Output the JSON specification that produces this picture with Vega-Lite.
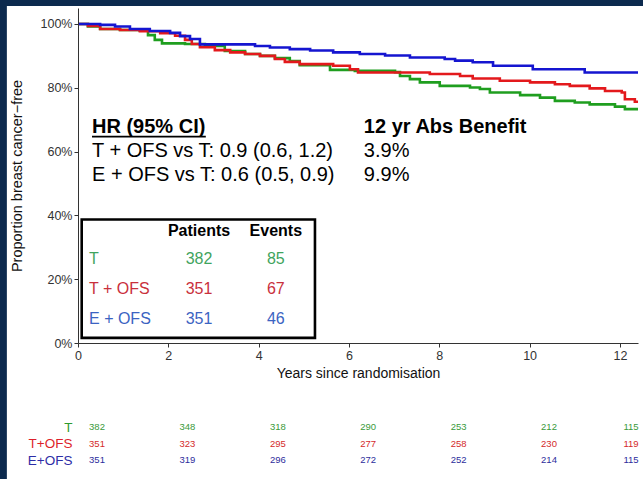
{
  "$schema": "https://vega.github.io/schema/vega-lite/v6.json",
  "width": 560,
  "height": 335,
  "autosize": "none",
  "padding": {"left": 78, "top": 8, "right": 5, "bottom": 136},
  "background": "#0c2a4e",
  "config": {"font": "Liberation Sans", "view": {"stroke": null}},
  "datasets": {
    "km": [
      {"arm": "T", "t": 0, "s": 1.0}, {"arm": "T", "t": 0.22, "s": 0.992}, {"arm": "T", "t": 0.49, "s": 0.984},
      {"arm": "T", "t": 0.93, "s": 0.981}, {"arm": "T", "t": 1.37, "s": 0.979}, {"arm": "T", "t": 1.55, "s": 0.965},
      {"arm": "T", "t": 1.70, "s": 0.950}, {"arm": "T", "t": 1.86, "s": 0.939}, {"arm": "T", "t": 2.37, "s": 0.937},
      {"arm": "T", "t": 2.81, "s": 0.931}, {"arm": "T", "t": 3.25, "s": 0.915}, {"arm": "T", "t": 3.70, "s": 0.906},
      {"arm": "T", "t": 4.03, "s": 0.900}, {"arm": "T", "t": 4.36, "s": 0.893}, {"arm": "T", "t": 4.69, "s": 0.884},
      {"arm": "T", "t": 4.91, "s": 0.871}, {"arm": "T", "t": 5.58, "s": 0.856}, {"arm": "T", "t": 6.13, "s": 0.853},
      {"arm": "T", "t": 7.02, "s": 0.849}, {"arm": "T", "t": 7.13, "s": 0.837}, {"arm": "T", "t": 7.35, "s": 0.827},
      {"arm": "T", "t": 7.57, "s": 0.817}, {"arm": "T", "t": 8.01, "s": 0.806}, {"arm": "T", "t": 8.68, "s": 0.801},
      {"arm": "T", "t": 8.90, "s": 0.796}, {"arm": "T", "t": 9.12, "s": 0.785}, {"arm": "T", "t": 9.79, "s": 0.777},
      {"arm": "T", "t": 10.23, "s": 0.769}, {"arm": "T", "t": 10.56, "s": 0.759}, {"arm": "T", "t": 11.00, "s": 0.754},
      {"arm": "T", "t": 11.33, "s": 0.748}, {"arm": "T", "t": 11.89, "s": 0.741}, {"arm": "T", "t": 12.11, "s": 0.733},
      {"arm": "T", "t": 12.4, "s": 0.733},

      {"arm": "T + OFS", "t": 0, "s": 1.0}, {"arm": "T + OFS", "t": 0.22, "s": 0.994}, {"arm": "T + OFS", "t": 0.49, "s": 0.984},
      {"arm": "T + OFS", "t": 0.93, "s": 0.981}, {"arm": "T + OFS", "t": 1.37, "s": 0.977}, {"arm": "T + OFS", "t": 1.82, "s": 0.971},
      {"arm": "T + OFS", "t": 2.15, "s": 0.963}, {"arm": "T + OFS", "t": 2.37, "s": 0.950}, {"arm": "T + OFS", "t": 2.52, "s": 0.937},
      {"arm": "T + OFS", "t": 2.70, "s": 0.927}, {"arm": "T + OFS", "t": 3.03, "s": 0.918}, {"arm": "T + OFS", "t": 3.37, "s": 0.911},
      {"arm": "T + OFS", "t": 3.70, "s": 0.906}, {"arm": "T + OFS", "t": 4.03, "s": 0.900}, {"arm": "T + OFS", "t": 4.36, "s": 0.890},
      {"arm": "T + OFS", "t": 4.58, "s": 0.881}, {"arm": "T + OFS", "t": 4.91, "s": 0.874}, {"arm": "T + OFS", "t": 5.65, "s": 0.869},
      {"arm": "T + OFS", "t": 6.02, "s": 0.858}, {"arm": "T + OFS", "t": 6.20, "s": 0.848}, {"arm": "T + OFS", "t": 7.79, "s": 0.843},
      {"arm": "T + OFS", "t": 8.46, "s": 0.837}, {"arm": "T + OFS", "t": 8.74, "s": 0.829}, {"arm": "T + OFS", "t": 9.34, "s": 0.822},
      {"arm": "T + OFS", "t": 10.01, "s": 0.817}, {"arm": "T + OFS", "t": 10.56, "s": 0.811}, {"arm": "T + OFS", "t": 10.89, "s": 0.806},
      {"arm": "T + OFS", "t": 11.33, "s": 0.798}, {"arm": "T + OFS", "t": 11.67, "s": 0.790}, {"arm": "T + OFS", "t": 12.04, "s": 0.785},
      {"arm": "T + OFS", "t": 12.11, "s": 0.764}, {"arm": "T + OFS", "t": 12.33, "s": 0.756}, {"arm": "T + OFS", "t": 12.4, "s": 0.756},

      {"arm": "E + OFS", "t": 0, "s": 1.0}, {"arm": "E + OFS", "t": 0.49, "s": 0.997}, {"arm": "E + OFS", "t": 0.82, "s": 0.992},
      {"arm": "E + OFS", "t": 1.15, "s": 0.984}, {"arm": "E + OFS", "t": 1.59, "s": 0.978}, {"arm": "E + OFS", "t": 2.04, "s": 0.972},
      {"arm": "E + OFS", "t": 2.26, "s": 0.962}, {"arm": "E + OFS", "t": 2.48, "s": 0.953}, {"arm": "E + OFS", "t": 2.70, "s": 0.936},
      {"arm": "E + OFS", "t": 3.92, "s": 0.931}, {"arm": "E + OFS", "t": 4.25, "s": 0.926}, {"arm": "E + OFS", "t": 4.69, "s": 0.921},
      {"arm": "E + OFS", "t": 5.14, "s": 0.917}, {"arm": "E + OFS", "t": 5.65, "s": 0.911}, {"arm": "E + OFS", "t": 6.24, "s": 0.906},
      {"arm": "E + OFS", "t": 6.80, "s": 0.901}, {"arm": "E + OFS", "t": 7.35, "s": 0.895}, {"arm": "E + OFS", "t": 8.12, "s": 0.890},
      {"arm": "E + OFS", "t": 8.35, "s": 0.885}, {"arm": "E + OFS", "t": 8.74, "s": 0.880}, {"arm": "E + OFS", "t": 9.19, "s": 0.869},
      {"arm": "E + OFS", "t": 10.07, "s": 0.858}, {"arm": "E + OFS", "t": 11.22, "s": 0.848}, {"arm": "E + OFS", "t": 12.4, "s": 0.848}
    ],
    "summary": [
      {"arm": "T", "patients": 382, "events": 85},
      {"arm": "T + OFS", "patients": 351, "events": 67},
      {"arm": "E + OFS", "patients": 351, "events": 46}
    ],
    "atrisk": [
      {"arm": "T", "t": 0, "n": 382}, {"arm": "T", "t": 2, "n": 348}, {"arm": "T", "t": 4, "n": 318},
      {"arm": "T", "t": 6, "n": 290}, {"arm": "T", "t": 8, "n": 253}, {"arm": "T", "t": 10, "n": 212},
      {"arm": "T", "t": 12, "n": 115},
      {"arm": "T+OFS", "t": 0, "n": 351}, {"arm": "T+OFS", "t": 2, "n": 323}, {"arm": "T+OFS", "t": 4, "n": 295},
      {"arm": "T+OFS", "t": 6, "n": 277}, {"arm": "T+OFS", "t": 8, "n": 258}, {"arm": "T+OFS", "t": 10, "n": 230},
      {"arm": "T+OFS", "t": 12, "n": 119},
      {"arm": "E+OFS", "t": 0, "n": 351}, {"arm": "E+OFS", "t": 2, "n": 319}, {"arm": "E+OFS", "t": 4, "n": 296},
      {"arm": "E+OFS", "t": 6, "n": 272}, {"arm": "E+OFS", "t": 8, "n": 252}, {"arm": "E+OFS", "t": 10, "n": 214},
      {"arm": "E+OFS", "t": 12, "n": 115}
    ]
  },
  "layer": [
    {
      "layer": [
        {
          "layer": [
            {
              "description": "white panel behind the plot and the numbers-at-risk table",
              "data": {"values": [{}]},
              "mark": {"type": "rect", "fill": "white"},
              "encoding": {
                "x": {"datum": -1.575}, "x2": {"datum": 13.5},
                "y": {"datum": -0.6}, "y2": {"datum": 1.0566}
              }
            },
            {
              "data": {"name": "km"},
              "mark": {"type": "line", "interpolate": "step-after", "strokeWidth": 2.6},
              "encoding": {
                "x": {
                  "field": "t", "type": "quantitative",
                  "scale": {"domain": [0, 12.4], "nice": false, "zero": false},
                  "axis": {
                    "values": [0, 2, 4, 6, 8, 10, 12], "title": "Years since randomisation",
                    "titleFontSize": 14, "titleFontWeight": "normal", "titleColor": "#111",
                    "titlePadding": 5, "labelFontSize": 12.5, "labelColor": "#333", "labelPadding": 2,
                    "labelFlush": false, "tickSize": 4, "tickColor": "#333", "domainColor": "#333",
                    "grid": false, "zindex": 1
                  }
                },
                "y": {
                  "field": "s", "type": "quantitative",
                  "scale": {"domain": [0, 1.05], "nice": false},
                  "axis": {
                    "values": [0, 0.2, 0.4, 0.6, 0.8, 1], "format": ".0%",
                    "title": "Proportion breast cancer−free", "titleFontSize": 14.5,
                    "titleFontWeight": "normal", "titleColor": "#111", "titleX": -61,
                    "titleBaseline": "middle", "labelFontSize": 12.5, "labelColor": "#333",
                    "labelPadding": 2, "tickSize": 4, "tickColor": "#333", "domainColor": "#333",
                    "grid": false, "zindex": 1
                  }
                },
                "color": {
                  "field": "arm", "type": "nominal",
                  "scale": {"domain": ["T", "T + OFS", "E + OFS"], "range": ["#1f9e1f", "#e3191c", "#1515d0"]},
                  "legend": null
                }
              }
            },
            {
              "data": {"values": [{}]},
              "mark": {"type": "text", "text": "HR (95% CI)", "fontSize": 20, "fontWeight": "bold", "align": "left", "baseline": "alphabetic", "color": "#000"},
              "encoding": {"x": {"datum": 0.31}, "y": {"datum": 0.657}}
            },
            {
              "data": {"values": [{}]},
              "mark": {"type": "rule", "strokeWidth": 1.8, "color": "#000"},
              "encoding": {"x": {"datum": 0.31}, "x2": {"datum": 2.83}, "y": {"datum": 0.647}}
            },
            {
              "data": {"values": [{}]},
              "mark": {"type": "text", "text": "T + OFS vs T: 0.9 (0.6, 1.2)", "fontSize": 20, "align": "left", "baseline": "alphabetic", "color": "#000"},
              "encoding": {"x": {"datum": 0.31}, "y": {"datum": 0.584}}
            },
            {
              "data": {"values": [{}]},
              "mark": {"type": "text", "text": "E + OFS vs T: 0.6 (0.5, 0.9)", "fontSize": 20, "align": "left", "baseline": "alphabetic", "color": "#000"},
              "encoding": {"x": {"datum": 0.31}, "y": {"datum": 0.508}}
            },
            {
              "data": {"values": [{}]},
              "mark": {"type": "text", "text": "12 yr Abs Benefit", "fontSize": 20, "fontWeight": "bold", "align": "left", "baseline": "alphabetic", "color": "#000"},
              "encoding": {"x": {"datum": 6.33}, "y": {"datum": 0.657}}
            },
            {
              "data": {"values": [{}]},
              "mark": {"type": "text", "text": "3.9%", "fontSize": 20, "align": "left", "baseline": "alphabetic", "color": "#000"},
              "encoding": {"x": {"datum": 6.33}, "y": {"datum": 0.584}}
            },
            {
              "data": {"values": [{}]},
              "mark": {"type": "text", "text": "9.9%", "fontSize": 20, "align": "left", "baseline": "alphabetic", "color": "#000"},
              "encoding": {"x": {"datum": 6.33}, "y": {"datum": 0.508}}
            },
            {
              "description": "boxed summary table",
              "data": {"values": [{}]},
              "mark": {"type": "rect", "fill": "white", "stroke": "#000", "strokeWidth": 2.6},
              "encoding": {"x": {"datum": 0.082}, "x2": {"datum": 5.247}, "y": {"datum": 0.016}, "y2": {"datum": 0.387}}
            },
            {
              "data": {"values": [{}]},
              "mark": {"type": "text", "text": "Patients", "fontSize": 16, "fontWeight": "bold", "align": "center", "baseline": "alphabetic", "color": "#000"},
              "encoding": {"x": {"datum": 2.68}, "y": {"datum": 0.336}}
            },
            {
              "data": {"values": [{}]},
              "mark": {"type": "text", "text": "Events", "fontSize": 16, "fontWeight": "bold", "align": "center", "baseline": "alphabetic", "color": "#000"},
              "encoding": {"x": {"datum": 4.38}, "y": {"datum": 0.336}}
            }
          ]
        },
        {
          "data": {"name": "summary"},
          "encoding": {
            "y": {
              "field": "arm", "type": "nominal",
              "scale": {"type": "point", "domain": ["T", "T + OFS", "E + OFS"], "range": [251, 311], "padding": 0},
              "axis": null
            },
            "color": {
              "field": "arm", "type": "nominal",
              "scale": {"domain": ["T", "T + OFS", "E + OFS"], "range": ["#3fa45e", "#c9303c", "#3b63c2"]},
              "legend": null
            }
          },
          "layer": [
            {
              "mark": {"type": "text", "fontSize": 16, "align": "left", "baseline": "middle"},
              "encoding": {"x": {"datum": 0.244}, "text": {"field": "arm"}}
            },
            {
              "mark": {"type": "text", "fontSize": 16, "align": "center", "baseline": "middle"},
              "encoding": {"x": {"datum": 2.68}, "text": {"field": "patients"}}
            },
            {
              "mark": {"type": "text", "fontSize": 16, "align": "center", "baseline": "middle"},
              "encoding": {"x": {"datum": 4.38}, "text": {"field": "events"}}
            }
          ]
        }
      ],
      "resolve": {"scale": {"y": "independent", "color": "independent"}}
    },
    {
      "description": "numbers at risk",
      "data": {"name": "atrisk"},
      "mark": {"type": "text", "fontSize": 9.5, "align": "center", "baseline": "middle"},
      "encoding": {
        "x": {
          "field": "t", "type": "quantitative",
          "scale": {"domain": [0, 10, 12], "range": [19, 471, 553], "nice": false, "zero": false},
          "axis": null
        },
        "y": {
          "field": "arm", "type": "nominal",
          "scale": {"type": "point", "domain": ["T", "T+OFS", "E+OFS"], "range": [419, 452], "padding": 0},
          "axis": {
            "orient": "left", "title": null, "domain": false, "ticks": false, "tickSize": 0,
            "labelPadding": 6, "labelFontSize": 13.5, "zindex": 1,
            "labelColor": {
              "condition": [
                {"test": "datum.value === 'T'", "value": "#2f9a2f"},
                {"test": "datum.value === 'T+OFS'", "value": "#dd1f2b"}
              ],
              "value": "#2d2da6"
            }
          }
        },
        "color": {
          "field": "arm", "type": "nominal",
          "scale": {"domain": ["T", "T+OFS", "E+OFS"], "range": ["#3a9a3a", "#d42a2a", "#2d2d9c"]},
          "legend": null
        },
        "text": {"field": "n"}
      }
    }
  ],
  "resolve": {"scale": {"x": "independent", "y": "independent", "color": "independent"}}
}
